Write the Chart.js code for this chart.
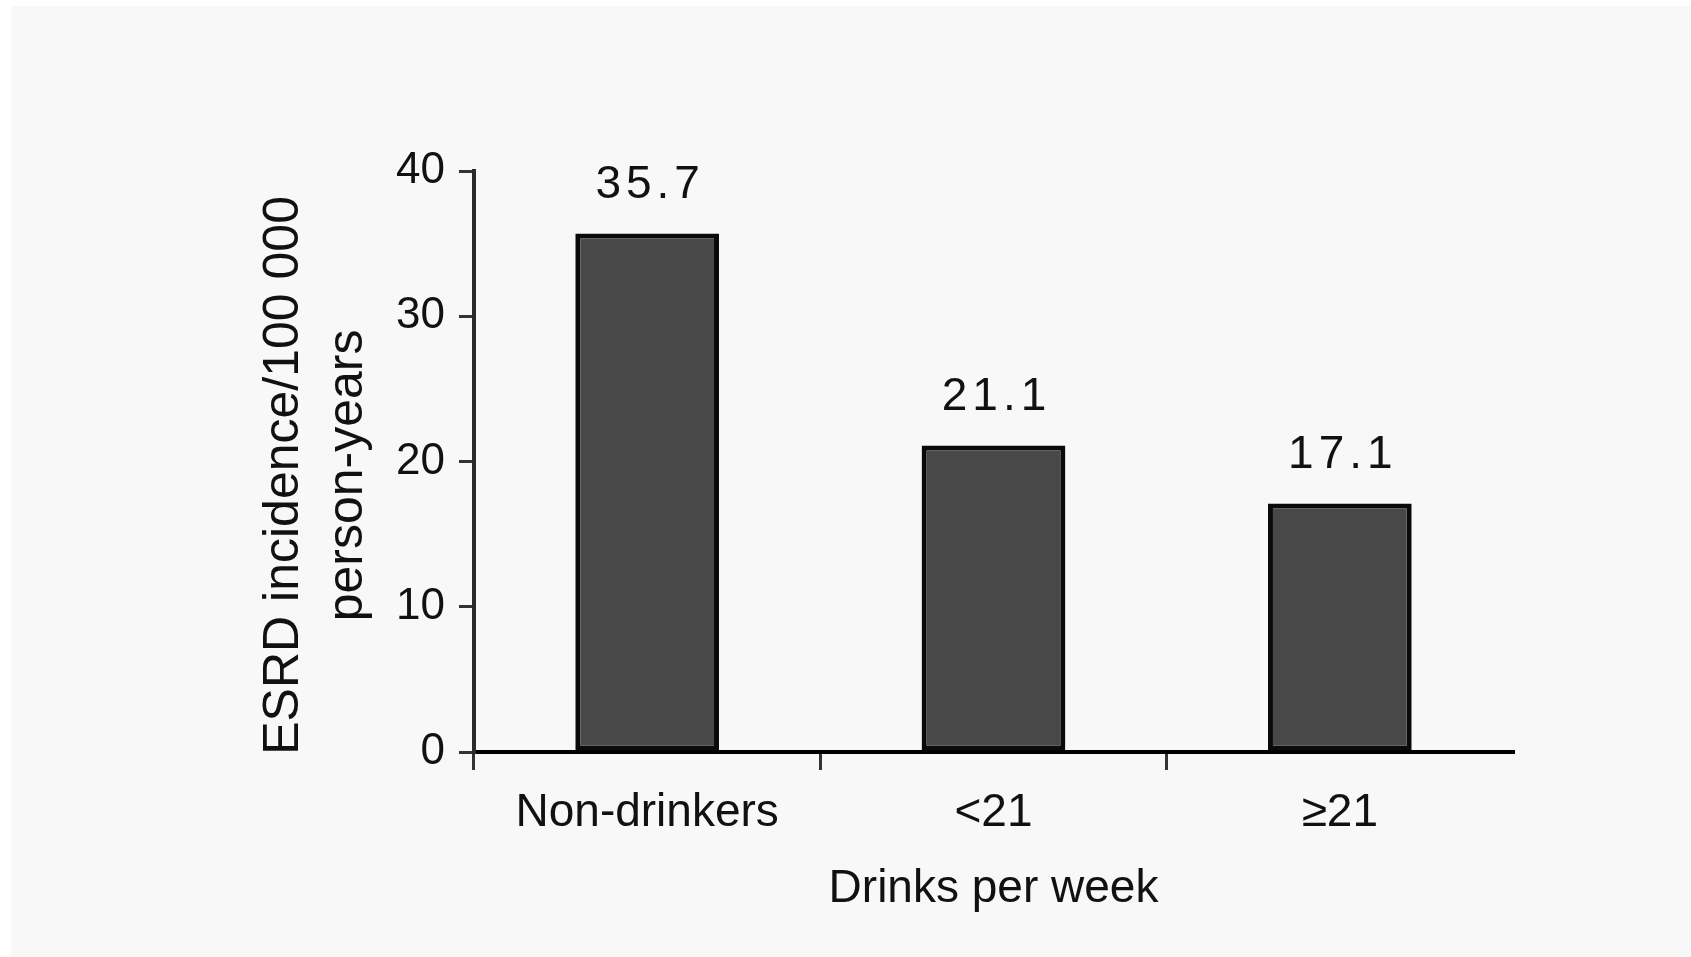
<!DOCTYPE html>
<html>
<head>
<meta charset="utf-8">
<script src="https://cdn.jsdelivr.net/npm/chart.js@4/dist/chart.umd.min.js"></script>
<style>
    html, body { margin: 0; padding: 0; background: #ffffff; }
    #panel { position: absolute; left: 11px; top: 6px; width: 1680px; height: 951px; background: #f8f8f8; }
    #wrap { position: absolute; left: 0; top: 0; width: 1691px; height: 957px; }
</style>
</head>
<body>
<div id="panel"></div>
<div id="wrap"><canvas id="esrdChart" width="1691" height="957"></canvas></div>
<script>
// data
const categories = ['Non-drinkers', '<21', '≥21'];
const incidence = [35.7, 21.1, 17.1];
const yTickValues = [0, 10, 20, 30, 40];
const yTitleLines = ['ESRD incidence/100 000  ', 'person-years  '];
const xTitle = 'Drinks per week';

const FONT = '"Liberation Sans", Arial, Helvetica, sans-serif';
const INK = '#111111';

// draws the numbers above each bar
const valueLabels = {
    id: 'valueLabels',
    afterDatasetsDraw(chart) {
        const ctx = chart.ctx;
        const meta = chart.getDatasetMeta(0);
        ctx.save();
        ctx.font = '46px ' + FONT;
        ctx.fillStyle = INK;
        ctx.textAlign = 'center';
        ctx.textBaseline = 'middle';
        ctx.letterSpacing = '5px';
        meta.data.forEach((bar, i) => {
            ctx.fillText(incidence[i].toFixed(1), bar.x + 3, bar.y - 48);
        });
        ctx.restore();
    }
};

function renderChart() {
    const ctx = document.getElementById('esrdChart');
    if (!ctx) {
        console.error('Element with id "esrdChart" not found.');
        return;
    }
    new Chart(ctx.getContext('2d'), {
        type: 'bar',
        data: {
            labels: categories,
            datasets: [{
                data: incidence,
                backgroundColor: '#484848',
                borderColor: '#0a0a0a',
                borderWidth: 5,
                borderSkipped: false,
                barPercentage: 0.415,
                categoryPercentage: 1
            }]
        },
        options: {
            responsive: false,
            animation: false,
            layout: {
                padding: { left: 230, right: 178, top: 171, bottom: 0 }
            },
            plugins: {
                legend: { display: false },
                tooltip: { enabled: false }
            },
            scales: {
                x: {
                    offset: true,
                    grid: {
                        offset: true,
                        drawOnChartArea: false,
                        tickLength: 18,
                        lineWidth: 3,
                        // no tick mark at the right end of the axis
                        color: (c) => c.type === 'tick' ? '#333333' : 'transparent'
                    },
                    border: { display: true, color: '#000000', width: 4 },
                    ticks: {
                        color: INK,
                        padding: 16,
                        maxRotation: 0,
                        font: { family: FONT, size: 46 }
                    },
                    title: {
                        display: true,
                        text: xTitle,
                        color: INK,
                        padding: { top: 0, bottom: 40 },
                        font: { family: FONT, size: 46 }
                    },
                    afterFit: (scale) => { scale.height = 957 - 752; }
                },
                y: {
                    min: 0,
                    max: 40,
                    afterBuildTicks: (scale) => {
                        scale.ticks = yTickValues.map(v => ({ value: v }));
                    },
                    grid: {
                        drawOnChartArea: false,
                        tickLength: 15,
                        lineWidth: 3,
                        color: '#333333'
                    },
                    border: { display: true, color: '#2a2a2a', width: 4 },
                    ticks: {
                        color: INK,
                        padding: 14,
                        font: { family: FONT, size: 44 }
                    },
                    title: {
                        display: true,
                        text: yTitleLines,
                        color: INK,
                        padding: { top: 22, bottom: 0 },
                        font: { family: FONT, size: 50, lineHeight: 1.28 }
                    },
                    afterFit: (scale) => { scale.width = 474 - 230; }
                }
            }
        },
        plugins: [valueLabels]
    });
}

renderChart();
</script>
</body>
</html>
